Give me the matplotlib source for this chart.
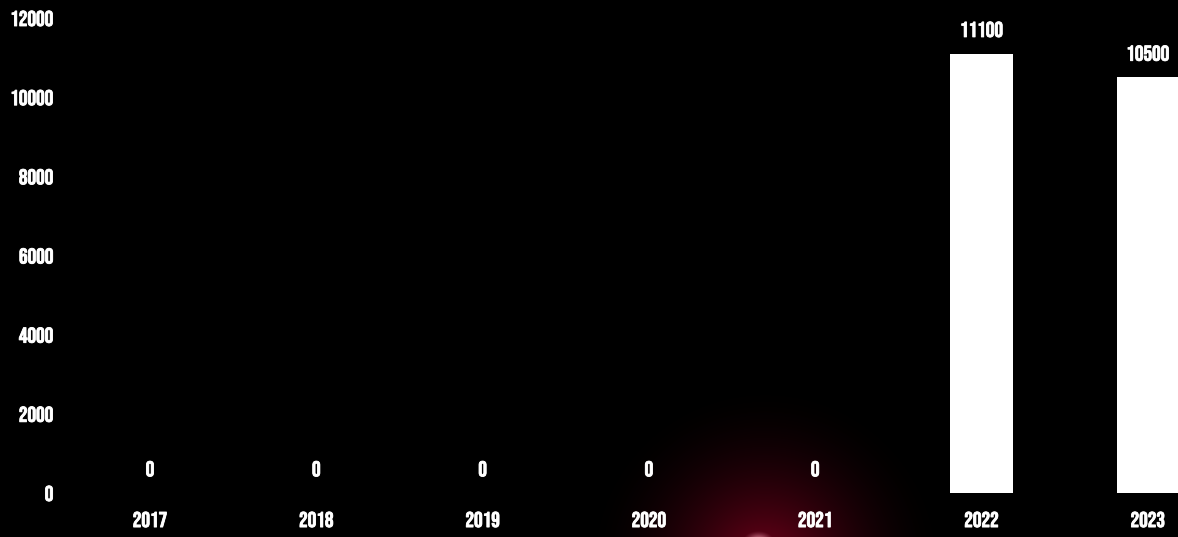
import matplotlib
matplotlib.use("Agg")
import matplotlib.pyplot as plt
import matplotlib.patheffects as pe
import numpy as np
from matplotlib import font_manager

years = ["2017", "2018", "2019", "2020", "2021", "2022", "2023"]
values = [0, 0, 0, 0, 0, 11100, 10500]
y_ticks = [0, 2000, 4000, 6000, 8000, 10000, 12000]

# Bebas Neue if it is on the system
bebas = [f for f in font_manager.findSystemFonts() if "BebasNeue" in f]
if bebas:
    font_manager.fontManager.addfont(bebas[0])
    fam = font_manager.FontProperties(fname=bebas[0]).get_name()
else:
    fam = "DejaVu Sans"
plt.rcParams["font.family"] = [fam, "DejaVu Sans"]

W, H = 1178, 537
fig = plt.figure(figsize=(W / 100, H / 100), dpi=100, facecolor="black")

# red glow at the bottom
bg = fig.add_axes([0, 0, 1, 1], zorder=0)
bg.set_axis_off()
xx, yy = np.meshgrid(np.arange(W), np.arange(H))
d = np.hypot(xx - 765, (yy - 565) * 1.0)
a = np.clip(1 - d / 185, 0, 1) ** 1.9
img = np.zeros((H, W, 3))
img[..., 0] = 0.47 * a
img[..., 2] = 0.11 * a
spot = np.clip(1 - np.hypot(xx - 758, (yy - 541) * 1.5) / 16, 0, 1) ** 1.3
img = np.clip(img + spot[..., None] * 0.65, 0, 1)
bg.imshow(img, origin="upper", extent=[0, W, 0, H], aspect="auto")
bg.set_xlim(0, W)
bg.set_ylim(0, H)

left_px, right_px = 70, W
top_px, zero_px = 18, 493
ax = fig.add_axes([left_px / W, (H - zero_px) / H,
                   (right_px - left_px) / W, (zero_px - top_px) / H], zorder=1)
ax.patch.set_alpha(0)

x = np.arange(len(years))
step = 166.3
ax.set_xlim((left_px - 150) / step, (right_px - 150) / step)
ax.set_ylim(0, 12000)

thick = [pe.withStroke(linewidth=0.6, foreground="white")]

ax.bar(x, values, width=0.375, color="white", clip_on=False)
for xi, v in zip(x, values):
    ax.annotate(str(v), (xi, v), xytext=(0, 12), textcoords="offset points",
                ha="center", va="bottom", color="white", fontsize=15.5,
                annotation_clip=False, path_effects=thick)

ax.set_xticks(x)
ax.set_xticklabels(years)
ax.set_yticks(y_ticks)
ax.set_yticklabels([str(t) for t in y_ticks])
ax.tick_params(length=0, colors="white", labelsize=15.5)
ax.tick_params(axis="x", pad=13)
ax.tick_params(axis="y", pad=12)
for lab in ax.get_xticklabels() + ax.get_yticklabels():
    lab.set_path_effects(thick)
for s in ax.spines.values():
    s.set_visible(False)

fig.savefig("out.png", dpi=100, facecolor="black")
